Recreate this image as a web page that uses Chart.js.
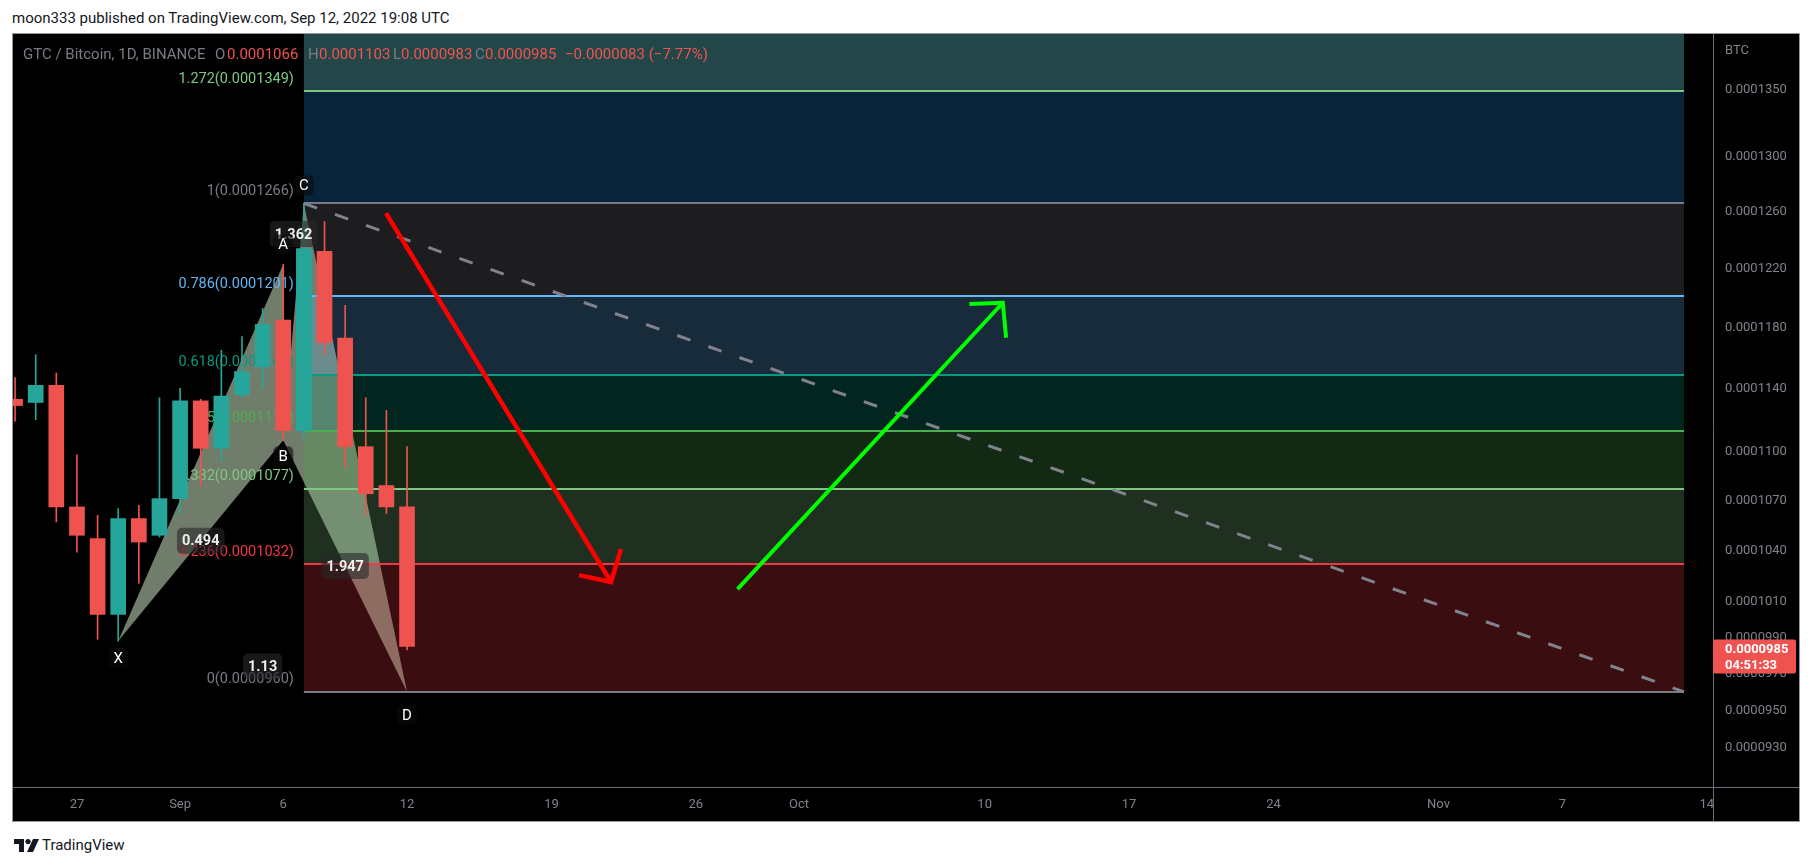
<!DOCTYPE html>
<html>
<head>
<meta charset="utf-8">
<script src="https://cdn.jsdelivr.net/npm/chart.js@4.4.0/dist/chart.umd.min.js"></script>
<style>
html, body { margin: 0; padding: 0; background: #fff; width: 1813px; height: 866px; overflow: hidden; font-family: Roboto, sans-serif; }
#pub { position: absolute; left: 12px; top: 9px; font-size: 15px; color: #131722; white-space: nowrap; }
#panel { position: absolute; left: 12px; top: 33px; width: 1788px; height: 789px; background: #000; }
.h { position: absolute; top: 45px; font-size: 15px; line-height: 18px; white-space: nowrap; color: #787b86; }
.h.r { color: #ef5350; }
#tv { position: absolute; left: 12px; top: 836px; height: 18px; white-space: nowrap; }
#tv span { position: absolute; left: 30px; top: 0; font-size: 15px; line-height: 18px; color: #131722; }
</style>
</head>
<body>
<div id="pub">moon333 published on TradingView.com, Sep 12, 2022 19:08 UTC</div>
<div id="panel"><canvas id="c"></canvas></div>

<div class="h" style="left:23px">GTC / Bitcoin, 1D, BINANCE</div>
<div class="h" style="left:215px">O</div><div class="h r" style="left:227px">0.0001066</div>
<div class="h" style="left:308px">H</div><div class="h r" style="left:319px">0.0001103</div>
<div class="h" style="left:393px">L</div><div class="h r" style="left:401px">0.0000983</div>
<div class="h" style="left:475px">C</div><div class="h r" style="left:485px">0.0000985</div>
<div class="h r" style="left:565px">−0.0000083 (−7.77%)</div>

<div id="tv">
  <svg width="26" height="14" viewBox="0 0 26 14" style="position:absolute;left:2px;top:3px">
    <path d="M0 0h10v13H5V5H0z" fill="#131722"/>
    <circle cx="14" cy="2.6" r="2.6" fill="#131722"/>
    <path d="M19 0h6l-6 13h-6z" fill="#131722"/>
  </svg>
  <span>TradingView</span>
</div>

<script>
// days counted from Sep 12 2022 (= 0)
const days   = [-19, -18, -17, -16, -15, -14, -13, -12, -11, -10, -9, -8, -7, -6, -5, -4, -3, -2, -1, 0];
const opens  = [0.0001133, 0.0001131, 0.0001142, 0.0001066, 0.0001047, 0.0001003, 0.0001059, 0.0001049, 0.0001071, 0.0001132,
                0.0001102, 0.0001136, 0.0001154, 0.0001185, 0.0001113, 0.0001232, 0.0001173, 0.0001103, 0.0001079, 0.0001066];
const highs  = [0.0001147, 0.0001162, 0.0001150, 0.0001098, 0.0001061, 0.0001065, 0.0001067, 0.0001134, 0.0001140, 0.0001133,
                0.0001165, 0.0001174, 0.0001193, 0.0001223, 0.0001266, 0.0001253, 0.0001195, 0.0001134, 0.0001126, 0.0001103];
const lows   = [0.0001119, 0.0001120, 0.0001057, 0.0001039, 0.0000989, 0.0000988, 0.0001021, 0.0001048, 0.0001062, 0.0001079,
                0.0001094, 0.0001134, 0.0001140, 0.0001107, 0.0001108, 0.0001162, 0.0001090, 0.0001061, 0.0001062, 0.0000983];
const closes = [0.0001129, 0.0001142, 0.0001066, 0.0001049, 0.0001003, 0.0001059, 0.0001045, 0.0001071, 0.0001132, 0.0001102,
                0.0001135, 0.0001151, 0.0001182, 0.0001113, 0.0001234, 0.0001170, 0.0001103, 0.0001074, 0.0001066, 0.0000985];

const xTickDays   = [-16, -11, -6, 0, 7, 14, 19, 28, 35, 42, 50, 56, 63];
const xTickLabels = ['27', 'Sep', '6', '12', '19', '26', 'Oct', '10', '17', '24', 'Nov', '7', '14'];
const yTicks = [0.0001350, 0.0001300, 0.0001260, 0.0001220, 0.0001180, 0.0001140, 0.0001100,
                0.0001070, 0.0001040, 0.0001010, 0.0000990, 0.0000970, 0.0000950, 0.0000930];

// fib retracement
const fibLevels = [0, 0.236, 0.382, 0.5, 0.618, 0.786, 1, 1.272];
const fibPrices = [0.0000960, 0.0001032, 0.0001077, 0.0001113, 0.0001149, 0.0001201, 0.0001266, 0.0001349];
const fibStart = -5, fibEnd = 61.9;

// XABCD pattern
const patNames  = ['X', 'A', 'B', 'C', 'D'];
const patDays   = [-14, -6, -6, -5, 0];
const patPrices = [0.0000988, 0.0001223, 0.0001107, 0.0001266, 0.0000960];
const ratioText = ['0.494', '1.362', '1.947', '1.13'];
const ratioPair = [[0, 2], [1, 3], [2, 4], [0, 4]];

// drawings
const trendDays   = [-5, 61.9];
const trendPrices = [0.0001266, 0.0000960];
const redDays     = [-1.02, 9.89, 8.34, 10.37];       // start, tip, arm, arm
const redPrices   = [0.0001259, 0.00010216, 0.00010256, 0.00010409];
const greenDays   = [16.02, 28.88, 27.26, 29.04];
const greenPrices = [0.00010175, 0.00011967, 0.00011958, 0.00011732];

const lastPrice = 0.0000985;
const lastTimer = '04:51:33';

const UP = '#26a69a', DN = '#ef5350';
const fibLine = ['#787b86', '#f23645', '#81c784', '#4caf50', '#089981', '#64b5f6', '#787b86', '#81c784'];
const fibFill = ['rgba(242,54,69,0.24)', 'rgba(129,199,132,0.24)', 'rgba(76,175,80,0.24)', 'rgba(8,153,129,0.24)',
                 'rgba(100,181,246,0.24)', 'rgba(120,123,134,0.24)', 'rgba(33,150,243,0.24)', '#234748'];
const letterOff = [17, -20, 16, -18, 23];
const candleColors = closes.map((c, i) => c >= opens[i] ? UP : DN);

function roundBox(ctx, x, y, w, h, r) {
  ctx.beginPath();
  ctx.moveTo(x + r, y);
  ctx.arcTo(x + w, y, x + w, y + h, r);
  ctx.arcTo(x + w, y + h, x, y + h, r);
  ctx.arcTo(x, y + h, x, y, r);
  ctx.arcTo(x, y, x + w, y, r);
  ctx.closePath();
}

const overlay = {
  id: 'overlay',
  beforeDatasetsDraw(chart) {
    const { ctx, chartArea: a, scales: { x, y } } = chart;
    const px = v => x.getPixelForValue(v), py = v => y.getPixelForValue(v);
    ctx.save();
    ctx.beginPath(); ctx.rect(a.left, a.top, a.right - a.left, a.bottom - a.top); ctx.clip();

    // pattern triangles XAB, BCD
    ctx.fillStyle = 'rgba(215,240,205,0.52)';
    [[0, 1, 2], [2, 3, 4]].forEach(t => {
      ctx.beginPath();
      t.forEach((k, j) => {
        const X = px(patDays[k]), Y = py(patPrices[k]);
        j ? ctx.lineTo(X, Y) : ctx.moveTo(X, Y);
      });
      ctx.closePath(); ctx.fill();
    });

    // fib zones
    const x0 = px(fibStart), x1 = px(fibEnd);
    for (let i = 0; i < fibPrices.length; i++) {
      const yLo = py(fibPrices[i]);
      const yHi = i + 1 < fibPrices.length ? py(fibPrices[i + 1]) : a.top;
      ctx.fillStyle = fibFill[i];
      ctx.fillRect(x0, yHi, x1 - x0, yLo - yHi);
    }
    // fib lines
    ctx.lineWidth = 2;
    fibPrices.forEach((p, i) => {
      const Y = Math.round(py(p));
      ctx.strokeStyle = fibLine[i];
      ctx.beginPath(); ctx.moveTo(x0, Y); ctx.lineTo(x1, Y); ctx.stroke();
    });
    // fib labels
    ctx.font = '14.5px Roboto';
    ctx.textAlign = 'right'; ctx.textBaseline = 'middle';
    fibPrices.forEach((p, i) => {
      ctx.fillStyle = fibLine[i];
      ctx.fillText(fibLevels[i] + '(' + p.toFixed(7) + ')', x0 - 10, py(p) - 12);
    });
    ctx.restore();
  },
  afterDatasetsDraw(chart) {
    const { ctx, chartArea: a, scales: { x, y } } = chart;
    const px = v => x.getPixelForValue(v), py = v => y.getPixelForValue(v);
    ctx.save();
    ctx.beginPath(); ctx.rect(a.left, a.top, a.right - a.left, a.bottom - a.top); ctx.clip();

    // ratio labels at midpoints
    ctx.font = 'bold 14.5px Roboto';
    ctx.textAlign = 'center'; ctx.textBaseline = 'middle';
    ratioPair.forEach((pr, i) => {
      const mx = (px(patDays[pr[0]]) + px(patDays[pr[1]])) / 2;
      const my = (py(patPrices[pr[0]]) + py(patPrices[pr[1]])) / 2;
      const w = ctx.measureText(ratioText[i]).width + 10;
      ctx.fillStyle = 'rgba(40,40,40,0.6)';
      roundBox(ctx, mx - w / 2, my - 13, w, 26, 5); ctx.fill();
      ctx.fillStyle = '#eeeeee';
      ctx.fillText(ratioText[i], mx, my + 1);
    });

    // point letters
    ctx.font = '15px Roboto';
    patNames.forEach((n, i) => {
      const X = px(patDays[i]), Y = py(patPrices[i]) + letterOff[i];
      ctx.fillStyle = 'rgba(10,10,10,0.6)';
      roundBox(ctx, X - 10, Y - 10, 20, 20, 5); ctx.fill();
      ctx.fillStyle = '#ffffff';
      ctx.fillText(n, X, Y + 1);
    });

    // dashed trend line
    ctx.strokeStyle = '#80838c'; ctx.lineWidth = 3; ctx.setLineDash([14, 19]);
    ctx.beginPath();
    ctx.moveTo(px(trendDays[0]), py(trendPrices[0]));
    ctx.lineTo(px(trendDays[1]), py(trendPrices[1]));
    ctx.stroke();
    ctx.setLineDash([]);

    // arrows
    const arrow = (ds, ps, col, w) => {
      ctx.strokeStyle = col; ctx.lineWidth = w; ctx.lineJoin = 'miter'; ctx.lineCap = 'butt';
      ctx.beginPath();
      ctx.moveTo(px(ds[0]), py(ps[0])); ctx.lineTo(px(ds[1]), py(ps[1]));
      ctx.stroke();
      ctx.beginPath();
      ctx.moveTo(px(ds[2]), py(ps[2])); ctx.lineTo(px(ds[1]), py(ps[1])); ctx.lineTo(px(ds[3]), py(ps[3]));
      ctx.stroke();
    };
    arrow(redDays, redPrices, '#ff0000', 4.5);
    arrow(greenDays, greenPrices, '#00ff00', 4);
    ctx.restore();
  },
  afterDraw(chart) {
    const { ctx, chartArea: a, scales: { y }, width, height } = chart;
    ctx.save();
    // separators and frame
    ctx.strokeStyle = '#6a6d78'; ctx.lineWidth = 1;
    ctx.beginPath();
    ctx.moveTo(a.right + 0.5, 0); ctx.lineTo(a.right + 0.5, height);
    ctx.moveTo(0, a.bottom + 0.5); ctx.lineTo(width, a.bottom + 0.5);
    ctx.stroke();
    ctx.strokeStyle = '#9598a1';
    ctx.strokeRect(0.5, 0.5, width - 1, height - 1);

    // currency label
    ctx.fillStyle = '#80838c'; ctx.font = '13px Roboto';
    ctx.textAlign = 'left'; ctx.textBaseline = 'middle';
    ctx.fillText('BTC', a.right + 12, a.top + 17);

    // last price tag
    const yp = y.getPixelForValue(lastPrice);
    ctx.fillStyle = '#ef5350';
    roundBox(ctx, a.right, yp - 7, 83, 34, 2); ctx.fill();
    ctx.fillStyle = '#ffffff'; ctx.font = 'bold 13px Roboto';
    ctx.fillText(lastPrice.toFixed(7), a.right + 12, yp + 3);
    ctx.fillText(lastTimer, a.right + 12, yp + 19);
    ctx.restore();
  }
};

new Chart('c', {
  type: 'bar',
  data: {
    datasets: [
      {
        label: 'body',
        data: days.map((d, i) => ({ x: d, y: [opens[i], closes[i]] })),
        backgroundColor: candleColors,
        barThickness: 15,
        grouped: false,
        order: 1
      },
      {
        label: 'wick',
        data: days.map((d, i) => ({ x: d, y: [lows[i], highs[i]] })),
        backgroundColor: candleColors,
        barThickness: 1,
        grouped: false,
        order: 2
      }
    ]
  },
  options: {
    responsive: true,
    maintainAspectRatio: false,
    animation: false,
    layout: { padding: { left: 1, top: 1, right: 1, bottom: 1 } },
    plugins: { legend: { display: false }, tooltip: { enabled: false } },
    scales: {
      x: {
        type: 'linear', min: -19.1, max: 63.305, offset: false,
        grid: { display: false, drawTicks: false },
        border: { display: false },
        afterBuildTicks: s => { s.ticks = xTickDays.map(v => ({ value: v })); },
        afterFit: s => { s.height = 34; s.paddingLeft = 0; s.paddingRight = 0; },
        ticks: {
          autoSkip: false, maxRotation: 0, padding: 10, color: '#80838c',
          font: { family: 'Roboto', size: 13 },
          callback: v => xTickLabels[xTickDays.indexOf(v)] ?? ''
        }
      },
      y: {
        type: 'logarithmic', position: 'right', min: 0.00009096, max: 0.00013935,
        grid: { display: false, drawTicks: false },
        border: { display: false },
        afterBuildTicks: s => { s.ticks = yTicks.map(v => ({ value: v })); },
        afterFit: s => { s.width = 86; s.paddingTop = 0; s.paddingBottom = 0; },
        ticks: {
          autoSkip: false, padding: 12, color: '#80838c',
          font: { family: 'Roboto', size: 13 },
          callback: v => Number(v).toFixed(7)
        }
      }
    }
  },
  plugins: [overlay]
});
</script>
</body>
</html>
